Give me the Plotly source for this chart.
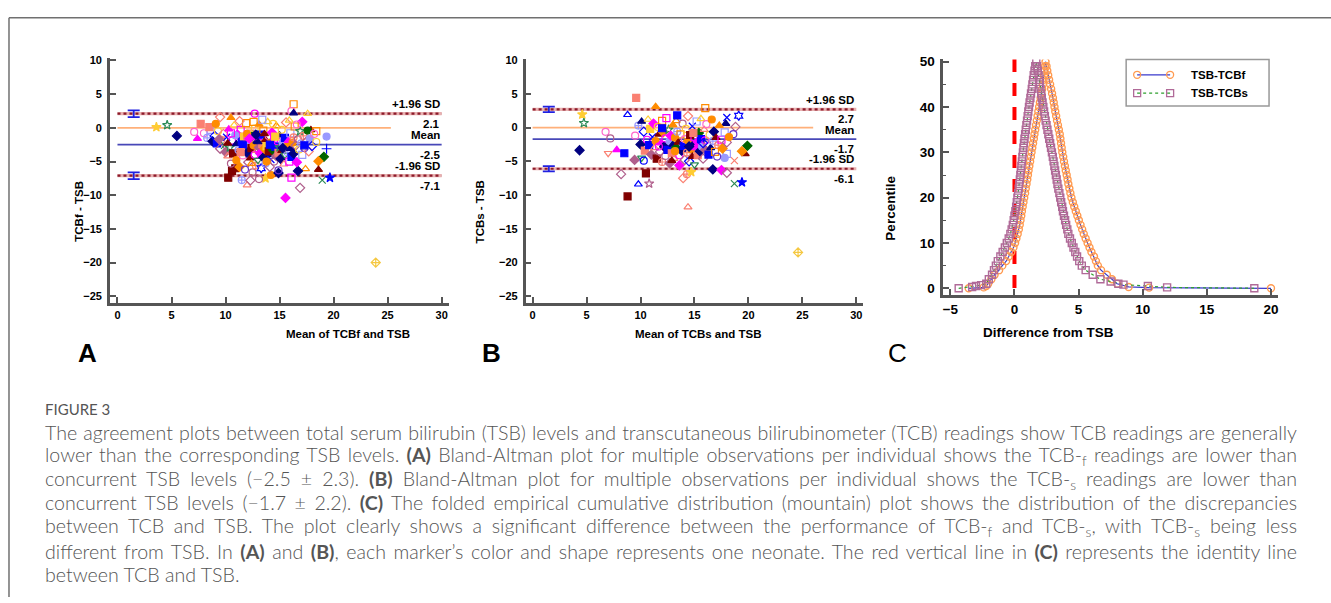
import plotly.graph_objects as go

W, H = 1331, 603

# ---------------- DATA ----------------
# Panel A: Bland-Altman, TCBf - TSB (x = mean of TCBf and TSB, y = difference)
a_mean = [3.6, 4.6, 5.5, 7.1, 7.4, 7.7, 9.5, 10.5, 12.7, 16.3,
          16.1, 16.3, 17.6, 17.1, 17.9, 18.4, 19.35, 19.35, 19.1, 18.6,
          18.6, 17.4, 16.7, 18.95, 19.66, 16.9, 15.55, 23.9, 16.1, 12.0,
          10.25, 10.6, 10.9, 11.5, 13.7, 14.2, 14.9, 13.1, 12.3,
          8.0, 8.3, 8.6, 8.8, 9.0, 9.2, 9.3, 9.5, 9.6, 9.8,
          9.9, 10.0, 10.1, 10.2, 10.3, 10.4, 10.5, 10.6, 10.7, 10.8,
          11.0, 11.0, 11.1, 11.2, 11.3, 11.4, 11.5, 11.6, 11.7, 11.8,
          11.8, 11.9, 12.0, 12.0, 12.1, 12.2, 12.3, 12.3, 12.4, 12.5,
          12.5, 12.6, 12.7, 12.7, 12.8, 12.9, 12.9, 13.0, 13.0, 13.1,
          13.1, 13.2, 13.3, 13.3, 13.4, 13.5, 13.5, 13.6, 13.7, 13.7,
          13.8, 13.9, 13.9, 14.0, 14.0, 14.1, 14.2, 14.2, 14.3, 14.4,
          14.5, 14.5, 14.6, 14.7, 14.7, 14.8, 14.9, 14.9, 15.0, 15.0,
          15.1, 15.2, 15.2, 15.3, 15.4, 15.5, 15.5, 15.6, 15.7, 15.7,
          15.8, 15.9, 16.0, 16.0, 16.1, 16.2, 16.3, 16.3, 16.4, 16.5,
          16.6, 16.7, 16.8, 16.9, 17.0, 17.1, 17.2, 17.3, 17.5, 17.6,
          17.7, 17.8, 18.0, 18.2, 18.4, 8.5, 9.1, 11.6, 12.8, 13.6,
          14.1, 13.0, 12.0, 11.4, 15.3, 13.8, 12.4, 10.9, 14.6, 12.2,
          9.4, 10.5, 11.3, 13.4, 14.4, 15.9, 16.6, 12.6, 10.2, 17.3]
a_diff = [0.1, 0.4, -1.2, -0.6, -1.6, 0.6, 1.6, 1.5, 2.1, 3.5,
          2.5, 2.2, 2.1, 0.9, -0.3, -0.5, -1.3, -3.1, -4.3, -4.95,
          -6.2, -6.1, -6.4, -7.75, -7.4, -8.9, -10.4, -20.0, -7.4, -8.5,
          -7.4, -6.4, -6.0, -7.75, -7.5, -7.0, -6.7, -7.6, -7.8,
          -0.8, -1.5, -0.3, -2.0, -1.2, -2.3, -0.5, -3.1, -1.8, -0.9,
          -2.6, -3.6, -1.4, -4.2, -0.2, -2.9, -5.3, -1.9, -3.8, 0.4,
          -2.4, -4.8, -1.0, -3.3, -5.8, -0.3, -2.0, -4.1, -1.3, -6.2,
          -2.8, 0.7, -3.7, -1.7, -5.1, -2.3, -0.6, -4.5, -3.0, -6.6,
          -1.2, -2.6, -4.0, -0.1, -5.6, -2.0, -3.4, -1.5, -4.8, -2.9,
          0.5, -3.8, -1.0, -6.0, -2.4, -4.4, -0.4, -3.1, -5.3, -1.8,
          -2.7, -4.0, 0.9, -3.5, -1.2, -5.8, -2.2, -4.7, -0.7, -3.3,
          -1.6, -5.0, -2.8, 0.3, -4.2, -2.0, -3.7, -6.3, -1.1, -2.9,
          -4.6, -0.3, -3.4, -2.2, -5.4, -1.5, -4.0, 0.8, -2.7, -3.6,
          -1.9, -5.0, -0.8, -3.1, -4.3, -2.2, -1.4, -3.8, 0.2, -2.6,
          -5.1, -1.7, -3.2, -0.5, -2.3, -4.0, -1.2, -3.0, -2.0, -0.4,
          -3.5, -1.6, -2.7, -0.9, -2.1, 0.1, 0.6, -2.5, -1.0, -0.9,
          -2.5, -2.1, -0.9, -3.6, -3.0, -5.0, -5.3, -1.1, -1.3, -1.6,
          -1.7, -0.8, 1.0, 1.2, 0.6, 1.1, 0.5, 0.9, -2.3, -2.6]
a_neonate = [1, 2, 0, 3, 4, 5, 6, 7, 8, 9,
             3, 40, 11, 12, 13, 9, 14, 15, 16, 17,
             13, 18, 0, 19, 20, 21, 12, 22, 23, 24,
             25, 25, 25, 26, 1, 29, 0, 27, 21,
             3, 26, 37, 0, 41, 28, 10, 21, 31, 6,
             19, 30, 36, 24, 4, 2, 27, 8, 25, 11,
             40, 29, 12, 26, 17, 23, 28, 3, 32, 34,
             7, 9, 0, 5, 21, 14, 38, 13, 25, 27,
             16, 29, 8, 10, 31, 40, 24, 4, 33, 30,
             7, 12, 28, 35, 5, 0, 9, 17, 26, 13,
             32, 40, 11, 25, 3, 21, 29, 36, 12, 16,
             23, 27, 28, 18, 30, 8, 5, 34, 40, 2,
             0, 10, 13, 14, 24, 28, 33, 6, 17, 26,
             4, 23, 37, 40, 28, 29, 31, 0, 9, 21,
             12, 27, 10, 2, 26, 37, 31, 34, 21, 39,
             6, 14, 41, 3, 10, 5, 29, 28, 0, 13,
             28, 40, 29, 5, 0, 29, 18, 14, 32, 12,
             30, 23, 6, 37, 10, 11, 3, 9, 13, 28]
a_bias, a_upper, a_lower, a_ci = -2.5, 2.1, -7.1, 0.5
a_zero_end = 25.3

# Panel B: Bland-Altman, TCBs - TSB
b_mean = [9.6, 11.4, 16.0, 4.6, 4.75, 8.8, 19.1, 18.0, 17.9, 18.8,
          18.6, 6.76, 7.2, 4.35, 7.0, 7.8, 8.5, 9.45, 10.1, 10.3,
          8.2, 10.5, 9.8, 10.8, 8.8, 14.4, 24.6, 13.95, 14.3, 14.7,
          16.7, 17.5, 18.0, 18.7, 19.4, 19.9, 19.7, 19.4, 18.7, 18.0, 17.8,
          9.5, 9.8, 10.0, 10.1, 10.3, 10.4, 10.6, 10.7, 10.8, 10.9,
          11.0, 11.1, 11.2, 11.3, 11.4, 11.5, 11.6, 11.7, 11.8, 11.9,
          12.0, 12.0, 12.1, 12.2, 12.3, 12.3, 12.4, 12.5, 12.6, 12.7,
          12.7, 12.8, 12.9, 13.0, 13.0, 13.1, 13.2, 13.3, 13.3, 13.4,
          13.5, 13.6, 13.6, 13.7, 13.8, 13.9, 14.0, 14.1, 14.1, 14.2,
          14.3, 14.4, 14.4, 14.5, 14.6, 14.7, 14.8, 14.8, 14.9, 15.0,
          15.0, 15.1, 15.2, 15.3, 15.3, 15.4, 15.5, 15.6, 15.6, 15.7,
          15.8, 15.9, 16.0, 16.0, 16.1, 16.2, 16.3, 16.4, 16.5, 16.6,
          16.7, 16.8, 16.9, 17.0, 17.1, 17.2, 17.3, 17.5, 17.6, 17.8,
          18.0, 18.2, 12.0, 13.2, 14.5, 15.8, 11.7, 14.9, 12.9, 13.4]
b_diff = [4.4, 3.1, 2.9, 1.95, 0.68, 1.9, 1.75, 1.5, 0.6, 0.1,
          -0.97, -0.63, -1.6, -3.36, -3.8, -3.3, -3.8, -4.8, -4.5, -4.9,
          -6.9, -6.8, -8.4, -8.3, -10.2, -11.8, -18.5, -7.5, -6.9, -6.6,
          -6.2, -6.3, -6.7, -8.3, -8.1, -2.7, -3.9, -3.5, -4.9, -3.9, -4.5,
          -1.2, 0.3, -2.5, 0.9, -0.6, -3.4, -1.8, 1.2, -2.6, -0.2,
          -4.0, -1.4, 0.6, -3.0, -2.0, -4.6, 0.1, -1.0, -3.6, -2.3,
          1.0, -5.1, -0.7, -2.8, -1.6, -4.2, 1.4, -3.3, -0.3, -2.0,
          -5.3, -1.2, -3.8, 0.4, -2.5, -4.6, -1.5, -3.0, 1.0, -0.6,
          -2.2, -4.1, -5.6, -1.0, -3.4, 0.6, -2.7, -1.7, -4.8, -0.2,
          -3.7, 1.7, -2.0, -5.0, -1.1, -3.2, 0.2, -4.3, -2.4, -1.4,
          -5.5, -3.0, 0.9, -2.1, -4.1, -0.8, -3.5, -1.7, 1.3, -2.8,
          -4.6, -0.3, -1.9, -3.3, 0.5, -2.5, -4.0, -1.1, -3.0, 1.2,
          -2.0, -0.6, -3.6, -1.5, -4.3, -2.6, 0.3, -1.8, -3.1, -0.7,
          -2.2, -1.4, -0.1, -3.5, -2.8, -2.3, -2.8, -0.8, -4.9, 1.8]
b_neonate = [5, 7, 9, 1, 2, 43, 35, 36, 40, 21,
             34, 3, 27, 0, 38, 4, 28, 30, 33, 44,
             21, 25, 43, 42, 25, 24, 22, 6, 31, 1,
             0, 12, 21, 19, 20, 16, 13, 17, 45, 37, 14,
             3, 26, 0, 40, 41, 5, 8, 11, 28, 32,
             30, 36, 12, 24, 29, 25, 10, 13, 21, 4,
             9, 31, 17, 0, 8, 27, 23, 28, 2, 14,
             30, 12, 5, 7, 40, 24, 29, 16, 18, 26,
             13, 8, 12, 9, 0, 27, 28, 3, 21, 10,
             31, 6, 17, 41, 25, 29, 36, 13, 40, 23,
             33, 4, 37, 12, 5, 16, 0, 28, 11, 14,
             21, 24, 8, 30, 3, 27, 28, 10, 40, 29,
             26, 0, 9, 13, 34, 31, 7, 23, 17, 37,
             21, 29, 28, 29, 0, 41, 8, 5, 13, 28]
b_bias, b_upper, b_lower, b_ci = -1.7, 2.7, -6.1, 0.4
b_zero_end = 26.0

# Panel C: folded empirical cumulative distribution (mountain plot)
c_f_diff = [-3.57, -2.4, -2.2,
            -2.05, -1.8, -1.55, -1.2, -0.95, -0.65, -0.45, -0.25, -0.08, 0.05,
            0.15, 0.25, 0.34, 0.41, 0.47, 0.53, 0.58, 0.64, 0.7, 0.76,
            0.83, 0.88, 0.94, 1.0, 1.05, 1.1, 1.16, 1.22, 1.28, 1.33,
            1.39, 1.45, 1.51, 1.56, 1.62, 1.68, 1.74, 1.8, 1.86, 1.92,
            1.98, 2.04, 2.1, 2.16, 2.21, 2.26, 2.3, 2.34, 2.38, 2.42,
            2.5, 2.56, 2.63, 2.7, 2.78, 2.86, 2.93, 3.0, 3.06, 3.12,
            3.18, 3.25, 3.32, 3.39, 3.46, 3.53, 3.58, 3.63, 3.68, 3.73,
            3.8, 3.86, 3.93, 4.0, 4.07, 4.14, 4.2, 4.28, 4.36, 4.44,
            4.55, 4.66, 4.78, 4.9, 5.02, 5.15, 5.28, 5.4, 5.55, 5.7,
            5.85, 6.0, 6.2, 6.35, 6.5, 6.75, 7.2, 7.6, 8.0,
            8.9, 10.5, 20.0]
c_f_pct = [0.0, 0.2, 0.5,
           1, 2, 3, 4, 5, 6, 7, 8, 9, 10,
           11, 12, 13, 14, 15, 16, 17, 18, 19, 20,
           21, 22, 23, 24, 25, 26, 27, 28, 29, 30,
           31, 32, 33, 34, 35, 36, 37, 38, 39, 40,
           41, 42, 43, 44, 45, 46, 47, 48, 49, 50,
           49, 48, 47, 46, 45, 44, 43, 42, 41, 40,
           39, 38, 37, 36, 35, 34, 33, 32, 31, 30,
           29, 28, 27, 26, 25, 24, 23, 22, 21, 20,
           19, 18, 17, 16, 15, 14, 13, 12, 11, 10,
           9, 8, 7, 6, 5, 4, 3, 2, 1,
           0.3, 0.15, 0.0]
c_s_diff = [-4.35, -3.3, -3.0, -2.6,
            -2.2, -2.0, -1.75, -1.6, -1.45, -1.3, -1.1, -0.92, -0.75, -0.6,
            -0.45, -0.32, -0.22, -0.13, -0.06, 0.0, 0.07, 0.13, 0.18, 0.23,
            0.28, 0.33, 0.37, 0.42, 0.46, 0.5, 0.54, 0.58, 0.62, 0.66,
            0.7, 0.74, 0.78, 0.83, 0.88, 0.93, 0.98, 1.03, 1.08, 1.13,
            1.18, 1.24, 1.29, 1.35, 1.4, 1.45, 1.5, 1.56, 1.62, 1.7,
            1.76, 1.82, 1.88, 1.93, 1.98, 2.03, 2.08, 2.13, 2.19, 2.25,
            2.31, 2.37, 2.43, 2.5, 2.57, 2.64, 2.71, 2.78, 2.85, 2.92,
            2.99, 3.05, 3.11, 3.17, 3.23, 3.29, 3.35, 3.42, 3.5, 3.57,
            3.64, 3.72, 3.78, 3.86, 3.95, 4.03, 4.12, 4.2, 4.33, 4.47,
            4.6, 4.74, 4.88, 5.05, 5.25, 5.55, 6.1, 6.7, 7.5,
            8.1, 8.5, 10.4, 11.9, 18.7]
c_s_pct = [0.0, 0.3, 0.5, 0.7,
           1, 2, 3, 4, 5, 6, 7, 8, 9, 10,
           11, 12, 13, 14, 15, 16, 17, 18, 19, 20,
           21, 22, 23, 24, 25, 26, 27, 28, 29, 30,
           31, 32, 33, 34, 35, 36, 37, 38, 39, 40,
           41, 42, 43, 44, 45, 46, 47, 48, 49, 50,
           49, 48, 47, 46, 45, 44, 43, 42, 41, 40,
           39, 38, 37, 36, 35, 34, 33, 32, 31, 30,
           29, 28, 27, 26, 25, 24, 23, 22, 21, 20,
           19, 18, 17, 16, 15, 14, 13, 12, 11, 10,
           9, 8, 7, 6, 5, 4, 3, 2, 1.5,
           1.0, 0.8, 0.5, 0.2, 0.0]
c_identity_x = 0.0
c_names = ["TSB-TCBf", "TSB-TCBs"]

# ---------------- STYLE TABLE (one marker style per neonate) ----------------
NEONATE_STYLES = [
    ('diamond', '#000080'), ('star', '#FFCC33'), ('star-open', '#2E8B57'),
    ('circle-open', '#FF66CC'), ('triangle-up', '#FF00FF'), ('square', '#FA8072'),
    ('diamond-open', '#FA8072'), ('triangle-up', '#FF8C00'), ('circle-open', '#FF00FF'),
    ('square-open', '#FF8C00'), ('circle-open', '#FFCC33'), ('triangle-up-open', '#FFCC33'),
    ('diamond', '#FF00FF'), ('triangle-up', '#800000'), ('circle', '#9999FF'),
    ('cross-thin', '#0000FF'), ('diamond', '#006400'), ('diamond', '#FF8C00'),
    ('triangle-up-open', '#FF8C00'), ('x-thin', '#2E8B57'), ('star', '#0000FF'),
    ('diamond-open', '#B05F8C'), ('diamond-cross-open', '#F5C842'), ('square-open', '#FF00FF'),
    ('triangle-up-open', '#FA8072'), ('square', '#800000'), ('circle-cross-open', '#9999FF'),
    ('circle-open', '#B05F8C'), ('square', '#0000FF'), ('circle', '#FF8C00'),
    ('diamond', '#B05F8C'), ('circle-cross-open', '#FA8072'), ('square', '#FFCC33'),
    ('triangle-down-open', '#2E8B57'), ('circle-open', '#6633CC'), ('hexagram-open', '#0000FF'),
    ('x-thin', '#0000FF'), ('square-open', '#9999FF'), ('triangle-down-open', '#FA8072'),
    ('circle', '#006400'), ('triangle-up', '#000080'), ('diamond-open', '#0000FF'),
    ('star-open', '#B05F8C'), ('triangle-up-open', '#0000FF'), ('circle-open', '#0000FF'),
    ('x-thin', '#FA8072'),
]

FONT = "Liberation Sans"
AXCOL = "#555555"
fig = go.Figure()


def px_x(p):
    return p / W


def px_y(p):
    return 1 - p / H


def bland_altman(xa, ya, mean, diff, ids, bias, upper, lower, ci, zero_end, xname, yname, title_x, title_y_x):
    syms = [NEONATE_STYLES[i][0] for i in ids]
    cols = [NEONATE_STYLES[i][1] for i in ids]
    fig.add_trace(go.Scatter(x=[0, zero_end], y=[0, 0], mode="lines", xaxis=xa, yaxis=ya,
                             line=dict(color="#FFB07A", width=1.6), showlegend=False, hoverinfo="skip"))
    fig.add_trace(go.Scatter(x=[0, 30], y=[bias, bias], mode="lines", xaxis=xa, yaxis=ya,
                             line=dict(color="#4848B8", width=1.8), showlegend=False, hoverinfo="skip"))
    for v in (upper, lower):
        fig.add_trace(go.Scatter(x=[0, 30], y=[v, v], mode="lines", xaxis=xa, yaxis=ya,
                                 line=dict(color="#E8B0B0", width=3.2), showlegend=False, hoverinfo="skip"))
        fig.add_trace(go.Scatter(x=[0, 30], y=[v, v], mode="lines", xaxis=xa, yaxis=ya,
                                 line=dict(color="#8B1A2A", width=2.2, dash="dot"), showlegend=False,
                                 hoverinfo="skip"))
    fig.add_trace(go.Scatter(x=mean, y=diff, mode="markers", xaxis=xa, yaxis=ya, showlegend=False,
                             marker=dict(symbol=syms, color=cols, size=7,
                                         line=dict(color=cols, width=1.2))))
    fig.add_trace(go.Scatter(x=[1.5, 1.5], y=[upper, lower], mode="markers", xaxis=xa, yaxis=ya,
                             marker=dict(size=1, color="#2020E0"), showlegend=False,
                             error_y=dict(type="data", array=[ci, ci], color="#2020E0",
                                          thickness=1.8, width=6)))
    labs = [("+1.96 SD", upper, 9.5), (f"{upper:.1f}", upper, -10),
            ("Mean", bias, 9.5), (f"{bias:.1f}", bias, -10),
            ("-1.96 SD", lower, 9.5), (f"{lower:.1f}", lower, -10)]
    for t, v, s in labs:
        fig.add_annotation(x=30, y=v, xref=xa, yref=ya, text=t, showarrow=False,
                           xanchor="right", yanchor="middle", yshift=s,
                           font=dict(family=FONT, size=11.5, color="black", weight="bold"))
    fig.add_annotation(x=px_x(title_x), y=px_y(332), xref="paper", yref="paper", text=xname,
                       showarrow=False, font=dict(family=FONT, size=11.5, color="black", weight="bold"))
    fig.add_annotation(x=px_x(title_y_x), y=px_y(175), xref="paper", yref="paper", text=yname,
                       showarrow=False, textangle=-90,
                       font=dict(family=FONT, size=11.5, color="black", weight="bold"))


bland_altman("x", "y", a_mean, a_diff, a_neonate, a_bias, a_upper, a_lower, a_ci, a_zero_end,
             "Mean of TCBf and TSB", "TCBf - TSB", 283, 70)
bland_altman("x2", "y2", b_mean, b_diff, b_neonate, b_bias, b_upper, b_lower, b_ci, b_zero_end,
             "Mean of TCBs and TSB", "TCBs - TSB", 698, 479)

# Panel C
fig.add_trace(go.Scatter(x=[c_identity_x, c_identity_x], y=[50.6, 0], mode="lines", xaxis="x3", yaxis="y3",
                         line=dict(color="#FF0000", width=4, dash="13px,11px"), showlegend=False,
                         hoverinfo="skip"))
fig.add_trace(go.Scatter(x=c_f_diff, y=c_f_pct, mode="lines+markers", xaxis="x3", yaxis="y3",
                         name=c_names[0], showlegend=False,
                         line=dict(color="#3A3ACC", width=1.2),
                         marker=dict(symbol="circle-open", size=7, color="#FF9A50",
                                     line=dict(width=1.4, color="#FF9A50"))))
fig.add_trace(go.Scatter(x=c_s_diff, y=c_s_pct, mode="lines+markers", xaxis="x3", yaxis="y3",
                         name=c_names[1], showlegend=False,
                         line=dict(color="#2EA02E", width=1.2, dash="dot"),
                         marker=dict(symbol="square-open", size=7, color="#B06A98",
                                     line=dict(width=1.4, color="#B06A98"))))
fig.add_annotation(x=px_x(1116), y=px_y(331), xref="paper", yref="paper", text="Difference from TSB",
                   showarrow=False, font=dict(family=FONT, size=13.5, color="black", weight="bold"))
fig.add_annotation(x=px_x(900), y=px_y(170), xref="paper", yref="paper", text="Percentile",
                   showarrow=False, textangle=-90,
                   font=dict(family=FONT, size=13.5, color="black", weight="bold"))

# legend of panel C (drawn in a pixel-space helper axis)
fig.add_shape(type="rect", xref="paper", yref="paper", x0=px_x(1126), x1=px_x(1269),
              y0=px_y(102), y1=px_y(55), line=dict(color="#999999", width=1.5), fillcolor="white",
              layer="below")
leg_rows = [(70.5, "#3A3ACC", "solid", "circle-open", "#FF9A50"),
            (89.0, "#2EA02E", "dot", "square-open", "#B06A98")]
for (yy, lc, dash, sym, mc), nm in zip(leg_rows, c_names):
    fig.add_trace(go.Scatter(x=[1137, 1170], y=[yy, yy], mode="lines+markers", xaxis="x4", yaxis="y4",
                             showlegend=False, hoverinfo="skip",
                             line=dict(color=lc, width=1.2, dash=dash),
                             marker=dict(symbol=sym, size=7, color=mc, line=dict(width=1.3, color=mc))))
    fig.add_annotation(x=1189, y=yy, xref="x4", yref="y4", text=nm, showarrow=False,
                       xanchor="left", yanchor="middle",
                       font=dict(family=FONT, size=11.5, color="black", weight="bold"))


def axis_common(size):
    return dict(showline=True, linecolor=AXCOL, linewidth=2.5, ticks="inside", ticklen=6,
                tickwidth=1.5, tickcolor=AXCOL, showgrid=False, zeroline=False,
                tickfont=dict(family=FONT, size=size, color="black", weight="bold"))


fig.update_layout(
    width=W, height=H, margin=dict(l=0, r=0, t=0, b=0),
    paper_bgcolor="white", plot_bgcolor="rgba(0,0,0,0)", showlegend=False,
    xaxis=dict(domain=[px_x(109), px_x(448)], range=[-0.7, 30.65], anchor="y",
               tickvals=[0, 5, 10, 15, 20, 25, 30], **axis_common(11)),
    yaxis=dict(domain=[px_y(301), px_y(54)], range=[-26, 10.3], anchor="x",
               tickvals=[-25, -20, -15, -10, -5, 0, 5, 10], ticklabelstandoff=3, **axis_common(11)),
    xaxis2=dict(domain=[px_x(525), px_x(863)], range=[-0.65, 30.65], anchor="y2",
                tickvals=[0, 5, 10, 15, 20, 25, 30], **axis_common(11)),
    yaxis2=dict(domain=[px_y(301), px_y(55)], range=[-26, 10.1], anchor="x2",
                tickvals=[-25, -20, -15, -10, -5, 0, 5, 10], ticklabelstandoff=3, **axis_common(11)),
    xaxis3=dict(domain=[px_x(943), px_x(1278)], range=[-5.55, 20.55], anchor="y3",
                tickvals=[-5, 0, 5, 10, 15, 20], **axis_common(13.5)),
    yaxis3=dict(domain=[px_y(293), px_y(55)], range=[-1.5, 50.5], anchor="x3",
                tickvals=[0, 10, 20, 30, 40, 50], ticklabelstandoff=3,
                minor=dict(tickvals=[5, 15, 25, 35, 45], ticks="inside", ticklen=3, tickcolor=AXCOL,
                           tickwidth=1.2),
                **axis_common(13.5)),
    xaxis4=dict(domain=[0, 1], range=[0, W], anchor="y4", visible=False),
    yaxis4=dict(domain=[0, 1], range=[H, 0], anchor="x4", visible=False),
)

for letter, xc, bold in (("A", 75, True), ("B", 491, True), ("C", 909, False)):
    fig.add_annotation(x=px_x(xc), y=px_y(352), xref="paper", yref="paper", text=letter, showarrow=False,
                       font=dict(family=FONT, size=26, color="black", weight="bold" if bold else "normal"))

fig.add_shape(type="line", xref="paper", yref="paper", x0=px_x(8), x1=1, y0=px_y(13), y1=px_y(13),
              line=dict(color="#707070", width=1.5))
fig.add_shape(type="line", xref="paper", yref="paper", x0=px_x(8), x1=px_x(8), y0=px_y(13), y1=px_y(598),
              line=dict(color="#707070", width=1.5))

CAP_FONT = dict(family="Lato", size=19.6, color="#555555", weight=300)
fig.add_annotation(x=px_x(42), y=px_y(408), xref="paper", yref="paper", text="FIGURE 3", showarrow=False,
                   xanchor="left", yanchor="middle",
                   font=dict(family="Lato", size=15, color="#555555", weight=400))
caption_lines = [
    "The agreement plots between total serum bilirubin (TSB) levels and transcutaneous bilirubinometer (TCB) readings show TCB readings are generally",
    "lower than the corresponding TSB levels. <b>(A)</b> Bland-Altman plot for multiple observations per individual shows the TCB-<sub>f</sub> readings are lower than",
    "concurrent TSB levels (\u22122.5 \u00b1 2.3). <b>(B)</b> Bland-Altman plot for multiple observations per individual shows the TCB-<sub>s</sub> readings are lower than",
    "concurrent TSB levels (\u22121.7 \u00b1 2.2). <b>(C)</b> The folded empirical cumulative distribution (mountain) plot shows the distribution of the discrepancies",
    "between TCB and TSB. The plot clearly shows a significant difference between the performance of TCB-<sub>f</sub> and TCB-<sub>s</sub>, with TCB-<sub>s</sub> being less",
    "different from TSB. In <b>(A)</b> and <b>(B)</b>, each marker\u2019s color and shape represents one neonate. The red vertical line in <b>(C)</b> represents the identity line",
    "between TCB and TSB.",
]
cap_y = [432, 456, 480, 503, 527, 552, 575]
for t, yy in zip(caption_lines, cap_y):
    fig.add_annotation(x=px_x(42), y=px_y(yy), xref="paper", yref="paper", text=t, showarrow=False,
                       xanchor="left", yanchor="middle", font=CAP_FONT)

# page set-up + justification of the long caption lines (word spacing)
JS = """
document.body.style.margin='0px';
document.body.style.overflow='hidden';
var gd=document.getElementById('{plot_id}');
var right=1297;
var ts=gd.querySelectorAll('text.annotation-text');
for(var i=0;i<ts.length;i++){
  var t=ts[i]; var s=t.textContent||'';
  if(s.length<100) continue;
  var n=(s.match(/ /g)||[]).length; if(!n) continue;
  var r1=t.getBoundingClientRect();
  var ws=(right-r1.right)/n;
  if(ws<=0||ws>8) continue;
  t.style.wordSpacing=ws+'px';
  var r2=t.getBoundingClientRect();
  var dx=r1.left-r2.left;
  var old=t.getAttribute('transform')||'';
  t.setAttribute('transform',old+' translate('+dx+',0)');
}
"""
fig.write_html("out.html", config={"displayModeBar": False}, post_script=JS)
